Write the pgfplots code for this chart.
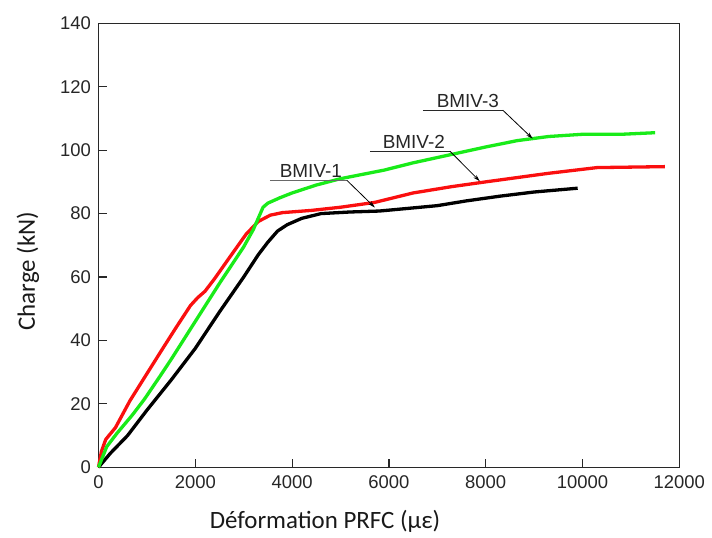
\documentclass[border=0pt]{standalone}
\usepackage{fontspec}
\setmainfont{Liberation Sans}
\newfontfamily\carlito{Carlito}
\usepackage{pgfplots}
\pgfplotsset{compat=1.18}
\usetikzlibrary{arrows.meta}
\definecolor{cgreen}{RGB}{25,235,25}
\definecolor{cred}{RGB}{250,15,15}
\definecolor{axgray}{RGB}{40,40,40}
\begin{document}
\begin{tikzpicture}[x=1bp,y=1bp]
\path[use as bounding box] (0,0) rectangle (712,538);
\begin{axis}[
  at={(98.5bp,70.7bp)}, anchor=south west,
  scale only axis, width=580.8bp, height=444bp,
  xmin=0, xmax=12000, ymin=0, ymax=140,
  xtick={0,2000,...,12000}, ytick={0,20,...,140},
  scaled x ticks=false,
  /pgf/number format/assume math mode=true,
  /pgf/number format/1000 sep={},
  xticklabel style={yshift=-5bp},
  yticklabel style={xshift=-4bp},
  tick label style={font=\fontsize{18.5}{21}\selectfont, text=black!85},
  tick align=inside, xtick pos=left, ytick pos=left,
  major tick length=8bp,
  axis line style={axgray, line width=1.5bp},
  every tick/.style={axgray, line width=1.2bp},
  xlabel={Déformation PRFC (με)},
  ylabel={Charge (kN)},
  label style={font=\carlito\fontsize{25}{28}\selectfont, text=black!90},
  xlabel style={at={(axis description cs:0.39,-0.1216)}, anchor=center},
  ylabel style={at={(axis description cs:-0.1214,0.442)}, anchor=center},
  clip=false,
]
% BMIV-1
\addplot[black, line width=3.3bp, line join=round] coordinates {
(0,0) (250,4.5) (600,10) (1000,18) (1500,27.5) (2000,37.5) (2500,49) (3000,60)
(3300,67) (3500,71) (3700,74.5) (3900,76.5) (4200,78.5) (4600,80) (5200,80.5)
(5800,80.8) (6300,81.5) (7000,82.5) (7600,84) (8300,85.5) (9000,86.8) (9900,88)
};
% BMIV-2
\addplot[cred, line width=3.3bp, line join=round] coordinates {
(0,0) (60,5) (150,8.8) (350,12.5) (650,21) (950,28.3) (1300,36.8) (1600,44)
(1900,51) (2050,53.5) (2200,55.5) (2400,59.5) (2700,66) (3050,73.5) (3300,77.5)
(3550,79.5) (3800,80.3) (4400,81) (5000,82) (5700,83.5) (6500,86.5) (7300,88.5)
(8000,90) (9300,92.7) (10300,94.5) (11700,94.8)
};
% BMIV-3
\addplot[cgreen, line width=3.3bp, line join=round] coordinates {
(0,0) (170,6.5) (380,10.7) (700,16.5) (950,21.5) (1270,28.7) (1500,34) (2000,46)
(2500,58) (3000,69.5) (3200,75) (3400,82) (3500,83.3) (3750,85) (4000,86.5)
(4500,89) (5000,91) (5900,93.7) (6500,96) (7250,98.5) (8000,101) (8650,103)
(9300,104.3) (10000,105) (10800,105) (11500,105.5)
};
% annotations
\draw[axgray, line width=0.8bp] (axis cs:6700,112.6) -- (axis cs:8353,112.6);
\draw[black, line width=0.8bp, -{Stealth[length=7bp,width=4bp]}] (axis cs:8353,112.6) -- (axis cs:8972,103.6);
\node[font=\fontsize{19}{22}\selectfont, anchor=base, text=black!85] at (axis cs:7630,113.5) {BMIV-3};
\draw[axgray, line width=0.8bp] (axis cs:5607,99.7) -- (axis cs:7259,99.7);
\draw[black, line width=0.8bp, -{Stealth[length=7bp,width=4bp]}] (axis cs:7259,99.7) -- (axis cs:7878,90.2);
\node[font=\fontsize{19}{22}\selectfont, anchor=base, text=black!85] at (axis cs:6515,100.6) {BMIV-2};
\draw[axgray!70, line width=0.8bp] (axis cs:3541,90.5) -- (axis cs:5131,90.5);
\draw[black, line width=0.8bp, -{Stealth[length=7bp,width=4bp]}] (axis cs:5131,90.5) -- (axis cs:5710,81.9);
\node[font=\fontsize{19}{22}\selectfont, anchor=base, text=black!85] at (axis cs:4388,91.4) {BMIV-1};
\end{axis}
\end{tikzpicture}
\end{document}
